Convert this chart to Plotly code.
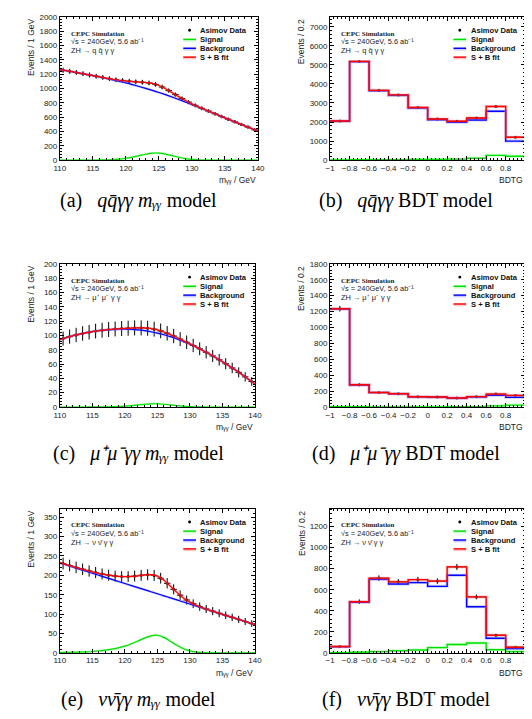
import plotly.graph_objects as go

# ---------------- data ----------------
mass_x = [110, 111, 112, 113, 114, 115, 116, 117, 118, 119, 120, 121, 122, 123, 124, 125,
          126, 127, 128, 129, 130, 131, 132, 133, 134, 135, 136, 137, 138, 139, 140]
mass_centers = [110.5, 111.5, 112.5, 113.5, 114.5, 115.5, 116.5, 117.5, 118.5, 119.5,
                120.5, 121.5, 122.5, 123.5, 124.5, 125.5, 126.5, 127.5, 128.5, 129.5,
                130.5, 131.5, 132.5, 133.5, 134.5, 135.5, 136.5, 137.5, 138.5, 139.5]
mass_ticks = [110, 115, 120, 125, 130, 135, 140]

# (a) q qbar gamma gamma, m_gg
qq_bkg = [1264, 1248, 1232, 1215, 1198, 1180, 1161, 1142, 1122, 1101, 1080, 1055, 1029, 1002, 974, 945,
          914, 881, 847, 812, 776, 740, 703, 666, 628, 590, 553, 516, 479, 442, 405]
qq_sig = [0, 0, 0, 0, 0.5, 1, 2, 4, 8, 15, 26, 42, 62, 82, 97, 98,
          84, 62, 40, 22, 10, 4, 1.5, 0.5, 0, 0, 0, 0, 0, 0, 0]
qq_sb = [1264, 1248, 1232, 1215, 1198.5, 1181, 1163, 1146, 1130, 1116, 1106, 1097, 1091, 1084, 1071, 1043,
         998, 943, 887, 834, 786, 744, 704.5, 666.5, 628, 590, 553, 516, 479, 442, 405]
qq_data = [1256, 1240, 1224, 1207, 1190, 1172, 1155, 1138, 1123, 1111, 1102, 1094, 1088, 1078, 1058,
           1021, 971, 915, 861, 810, 765, 724, 686, 647, 609, 572, 535, 498, 461, 424]
qq_err = [35.4, 35.2, 35.0, 34.7, 34.5, 34.2, 34.0, 33.7, 33.5, 33.3, 33.2, 33.1, 33.0, 32.8, 32.5,
          32.0, 31.2, 30.2, 29.3, 28.5, 27.7, 26.9, 26.2, 25.4, 24.7, 23.9, 23.1, 22.3, 21.5, 20.6]

# (c) mu+ mu- gamma gamma, m_gg
mm_bkg = [94, 97, 99.5, 101.7, 103.6, 105.2, 106.5, 107.5, 108.2, 108.6, 108.7, 108.4, 107.7, 106.6, 105.1, 103.2,
          100.9, 98.2, 95.1, 91.6, 87.7, 83.4, 78.8, 73.9, 68.7, 63.2, 57.5, 51.5, 45.3, 38.9, 32.3]
mm_sig = [0, 0, 0, 0, 0.02, 0.05, 0.1, 0.2, 0.4, 0.7, 1.2, 1.9, 2.85, 3.8, 4.45, 4.5,
          3.85, 2.85, 1.85, 1.0, 0.45, 0.2, 0.07, 0.02, 0, 0, 0, 0, 0, 0, 0]
mm_sb = [94, 97, 99.5, 101.7, 103.6, 105.3, 106.6, 107.7, 108.6, 109.3, 109.9, 110.3, 110.6, 110.4, 109.6, 107.7,
         104.8, 101.1, 97.0, 92.6, 88.2, 83.6, 78.9, 73.9, 68.7, 63.2, 57.5, 51.5, 45.3, 38.9, 32.3]
mm_data = [95.5, 98.3, 100.6, 102.7, 104.5, 106.0, 107.2, 108.2, 109.0, 109.6, 110.1, 110.5, 110.5, 110.0, 108.7,
           106.3, 103.0, 99.1, 94.8, 90.4, 85.9, 81.3, 76.4, 71.3, 66.0, 60.4, 54.5, 48.4, 42.1, 35.6]
mm_err = [9.8, 9.9, 10.0, 10.1, 10.2, 10.3, 10.4, 10.4, 10.4, 10.5, 10.5, 10.5, 10.5, 10.5, 10.4,
          10.3, 10.1, 10.0, 9.7, 9.5, 9.3, 9.0, 8.7, 8.4, 8.1, 7.8, 7.4, 7.0, 6.5, 6.0]

# (e) nu nubar gamma gamma, m_gg
vv_bkg = [232, 226.7, 221.4, 216.1, 210.8, 205.5, 200.2, 194.9, 189.6, 184.3, 179, 173.7, 168.4, 163.1, 157.8, 152.5,
          147.2, 141.9, 136.6, 131.3, 126, 120.7, 115.4, 110.1, 104.8, 99.5, 94.2, 88.9, 83.6, 78.3, 73]
vv_sig = [1, 1.2, 1.5, 2, 2.7, 3.6, 5, 7, 9.5, 13, 17.5, 23.5, 30.5, 38, 44, 45.5,
          40, 30, 19.5, 10.5, 5, 2, 0.8, 0.3, 0.1, 0, 0, 0, 0, 0, 0]
vv_sb = [233, 227.9, 222.9, 218.1, 213.5, 209.1, 205.2, 201.9, 199.1, 197.3, 196.5, 197.2, 198.9, 201.1, 201.8, 198,
         187.2, 171.9, 156.1, 141.8, 131, 122.7, 116.2, 110.4, 104.9, 99.5, 94.2, 88.9, 83.6, 78.3, 73]
vv_data = [230.5, 225.4, 220.5, 215.8, 211.3, 207.2, 203.6, 200.5, 198.2, 196.9, 196.9, 198.1, 200.0, 201.5, 199.9,
           192.6, 179.6, 164.0, 149.0, 136.4, 126.9, 119.5, 113.3, 107.7, 102.2, 96.9, 91.6, 86.3, 81.0, 75.7]
vv_err = [15.2, 15.0, 14.8, 14.7, 14.5, 14.4, 14.3, 14.2, 14.1, 14.0, 14.0, 14.1, 14.1, 14.2, 14.1,
          13.9, 13.4, 12.8, 12.2, 11.7, 11.3, 10.9, 10.6, 10.4, 10.1, 9.8, 9.6, 9.3, 9.0, 8.7]

# BDT histograms
bdt_edges = [-1.0, -0.8, -0.6, -0.4, -0.2, 0.0, 0.2, 0.4, 0.6, 0.8, 1.0]
bdt_ticktext = ["−1", "−0.8", "−0.6", "−0.4", "−0.2", "0", "0.2", "0.4", "0.6", "0.8", "1"]
bdt_centers = [-0.9, -0.7, -0.5, -0.3, -0.1, 0.1, 0.3, 0.5, 0.7, 0.9]

qq_bdt_bkg = [2040, 5165, 3640, 3400, 2730, 2120, 1990, 2110, 2570, 1000]
qq_bdt_sig = [15, 20, 25, 25, 35, 40, 50, 100, 250, 205]
qq_bdt_sb = [2055, 5185, 3665, 3425, 2765, 2160, 2040, 2210, 2820, 1205]
qq_bdt_err = [45.3, 72.0, 60.5, 58.5, 52.6, 46.5, 45.2, 47.0, 53.1, 34.7]

mm_bdt_bkg = [1232, 276, 181, 165, 127, 123, 110, 126, 148, 122]
mm_bdt_sig = [3, 3, 2, 2, 2, 2, 3, 4, 14, 24]
mm_bdt_sb = [1235, 279, 183, 167, 129, 125, 113, 130, 162, 146]
mm_bdt_err = [35.1, 16.7, 13.5, 12.9, 11.4, 11.2, 10.6, 11.4, 12.7, 12.1]

vv_bdt_bkg = [58, 480, 698, 655, 668, 632, 738, 438, 139, 42]
vv_bdt_sig = [2, 6, 12, 20, 28, 50, 79, 94, 29, 12]
vv_bdt_sb = [60, 486, 710, 675, 696, 682, 817, 532, 168, 54]
vv_bdt_err = [7.7, 22.0, 26.6, 26.0, 26.4, 26.1, 28.6, 23.1, 13.0, 7.3]

legend_labels = ["Asimov Data", "Signal", "Background", "S + B fit"]
captions = [
    "(a)\u2002 <i>qq\u0304γγ mᵧᵧ</i> model",
    "(b)\u2002 <i>qq\u0304γγ</i> BDT model",
    "(c)\u2002 <i>μ⁺μ⁻γγ mᵧᵧ</i> model",
    "(d)\u2002 <i>μ⁺μ⁻γγ</i> BDT model",
    "(e)\u2002 <i>νν\u0304γγ mᵧᵧ</i> model",
    "(f)\u2002 <i>νν\u0304γγ</i> BDT model",
]
process_labels = ["ZH → q q\u0304 γ γ", "ZH → q q\u0304 γ γ",
                  "ZH → μ⁺ μ⁻ γ γ", "ZH → μ⁺ μ⁻ γ γ",
                  "ZH → ν ν\u0304 γ γ", "ZH → ν ν\u0304 γ γ"]
energy_label = "√s = 240GeV, 5.6 ab⁻¹"

# ---------------- layout helpers ----------------
W, H = 532, 719
SANS = "Liberation Sans, Arial, Helvetica, sans-serif"
SERIF = "Liberation Serif, Times New Roman, serif"
RED, BLUE, GREEN = "#ff0000", "#0000ff", "#00e000"
LRED, LBLUE, LGREEN = "rgba(255,120,120,0.4)", "rgba(120,120,255,0.4)", "rgba(120,255,120,0.4)"

def fx(p):
    return p / W

def fy(p):
    return 1 - p / H

# (left, right, top, bottom) in pixels
panels = [(47, 250, 5, 150), (324, 524, 5, 150),
          (47, 247, 255, 400), (324, 524, 255, 400),
          (47, 247, 503, 649), (324, 524, 503, 649)]
yranges = [2000, 7520, 200, 1800, 372, 1370]
ydticks = [200, 1000, 20, 200, 50, 200]
yminor = [40, 200, 4, 40, 10, 40]
ytitles = ["Events / 1 GeV", "Events / 0.2"] * 3
xtitles = ["mᵧᵧ / GeV", "BDTG"] * 3

mass_sets = [(qq_bkg, qq_sig, qq_sb, qq_data, qq_err),
             (mm_bkg, mm_sig, mm_sb, mm_data, mm_err),
             (vv_bkg, vv_sig, vv_sb, vv_data, vv_err)]
bdt_sets = [(qq_bdt_bkg, qq_bdt_sig, qq_bdt_sb, qq_bdt_err),
            (mm_bdt_bkg, mm_bdt_sig, mm_bdt_sb, mm_bdt_err),
            (vv_bdt_bkg, vv_bdt_sig, vv_bdt_sb, vv_bdt_err)]

fig = go.Figure()
shapes = []
annotations = []

for i in range(6):
    n = i + 1
    xa = "x" if n == 1 else f"x{n}"
    ya = "y" if n == 1 else f"y{n}"
    is_mass = (i % 2 == 0)
    row = i // 2
    if is_mass:
        bkg, sig, sb, dat, err = mass_sets[row]
        fig.add_trace(go.Scatter(x=mass_centers, y=dat, mode="markers", xaxis=xa, yaxis=ya,
                                 marker=dict(size=3, color="black"),
                                 error_y=dict(type="data", array=err, thickness=1, width=0, color="black"),
                                 error_x=dict(type="constant", value=0.5, thickness=1, width=0, color="black"),
                                 showlegend=False, hoverinfo="skip"))
        for ys, c, lc in [(sig, GREEN, LGREEN), (bkg, BLUE, LBLUE), (sb, RED, LRED)]:
            fig.add_trace(go.Scatter(x=mass_x, y=ys, mode="lines", xaxis=xa, yaxis=ya,
                                     line=dict(color=lc, width=2.4, shape="spline"),
                                     showlegend=False, hoverinfo="skip"))
            fig.add_trace(go.Scatter(x=mass_x, y=ys, mode="lines", xaxis=xa, yaxis=ya,
                                     line=dict(color=c, width=1.2, shape="spline"),
                                     showlegend=False, hoverinfo="skip"))
    else:
        bkg, sig, sb, err = bdt_sets[row]
        fig.add_trace(go.Scatter(x=bdt_centers, y=sb, mode="markers", xaxis=xa, yaxis=ya,
                                 marker=dict(size=3, color="black"),
                                 error_y=dict(type="data", array=err, thickness=1, width=0, color="black"),
                                 error_x=dict(type="constant", value=0.1, thickness=1, width=0, color="black"),
                                 showlegend=False, hoverinfo="skip"))
        for ys, c, lc in [(sig, GREEN, LGREEN), (bkg, BLUE, LBLUE), (sb, RED, LRED)]:
            yy = list(ys) + [ys[-1]]
            fig.add_trace(go.Scatter(x=bdt_edges, y=yy, mode="lines", xaxis=xa, yaxis=ya,
                                     line=dict(color=lc, width=3, shape="hv"),
                                     showlegend=False, hoverinfo="skip"))
            fig.add_trace(go.Scatter(x=bdt_edges, y=yy, mode="lines", xaxis=xa, yaxis=ya,
                                     line=dict(color=c, width=1.4, shape="hv"),
                                     showlegend=False, hoverinfo="skip"))

    l, r, t, b = panels[i]
    minor_base = dict(ticks="inside", ticklen=2, tickwidth=1, tickcolor="black", showgrid=False)
    common = dict(showline=True, linecolor="black", linewidth=1, mirror="allticks",
                  ticks="inside", ticklen=4, tickwidth=1, tickcolor="black",
                  showgrid=False, zeroline=False,
                  tickfont=dict(family=SANS, size=8, color="#222"))
    xkey = "xaxis" if n == 1 else f"xaxis{n}"
    ykey = "yaxis" if n == 1 else f"yaxis{n}"
    if is_mass:
        xcfg = dict(range=[110, 140], tickmode="array", tickvals=mass_ticks,
                    minor=dict(minor_base, tickmode="array", tickvals=mass_x), **common)
    else:
        xcfg = dict(range=[-1.0001, 1.0001], tickmode="array", tickvals=bdt_edges, ticktext=bdt_ticktext,
                    minor=dict(minor_base, tick0=-1, dtick=0.04), **common)
    ycfg = dict(range=[0, yranges[i]], tick0=0, dtick=ydticks[i],
                minor=dict(minor_base, tick0=0, dtick=yminor[i]), **common)
    fig.update_layout({xkey: dict(domain=[fx(l), fx(r)], anchor=ya, **xcfg),
                       ykey: dict(domain=[fy(b), fy(t)], anchor=xa, **ycfg)})

    # axis titles
    annotations.append(dict(text=ytitles[i], xref="paper", yref="paper",
                            x=fx(l - 29), y=fy(t), xanchor="center", yanchor="top",
                            textangle=-90, showarrow=False,
                            font=dict(family=SANS, size=8.5, color="#222")))
    annotations.append(dict(text=xtitles[i], xref="paper", yref="paper",
                            x=fx(r), y=fy(b + 20), xanchor="right", yanchor="middle",
                            showarrow=False, font=dict(family=SANS, size=8.5, color="#222")))

    # CEPC labels
    annotations.append(dict(text="<b>CEPC Simulation</b>", xref="paper", yref="paper",
                            x=fx(l + 9), y=fy(t + 17), xanchor="left", yanchor="middle",
                            showarrow=False, font=dict(family=SERIF, size=7, color="#222")))
    annotations.append(dict(text=energy_label, xref="paper", yref="paper",
                            x=fx(l + 9), y=fy(t + 25), xanchor="left", yanchor="middle",
                            showarrow=False, font=dict(family=SANS, size=7.4, color="#222")))
    annotations.append(dict(text=process_labels[i], xref="paper", yref="paper",
                            x=fx(l + 9), y=fy(t + 34), xanchor="left", yanchor="middle",
                            showarrow=False, font=dict(family=SANS, size=7.4, color="#222")))

    # legend
    leg_dy = [13.5, 23, 32, 41]
    cols = [None, (GREEN, LGREEN), (BLUE, LBLUE), (RED, LRED)]
    for k in range(4):
        yy = t + leg_dy[k]
        if k == 0:
            shapes.append(dict(type="circle", xref="paper", yref="paper",
                               x0=fx(l + 131.5), x1=fx(l + 134.5), y0=fy(yy + 1.5), y1=fy(yy - 1.5),
                               fillcolor="black", line=dict(width=0)))
        else:
            c, lc = cols[k]
            shapes.append(dict(type="line", xref="paper", yref="paper",
                               x0=fx(l + 126.5), x1=fx(l + 139.5), y0=fy(yy + 1.2), y1=fy(yy + 1.2),
                               line=dict(color=lc, width=1.6)))
            shapes.append(dict(type="line", xref="paper", yref="paper",
                               x0=fx(l + 126.5), x1=fx(l + 139.5), y0=fy(yy - 0.3), y1=fy(yy - 0.3),
                               line=dict(color=c, width=1.5)))
        annotations.append(dict(text="<b>" + legend_labels[k] + "</b>", xref="paper", yref="paper",
                                x=fx(l + 142), y=fy(yy), xanchor="left", yanchor="middle",
                                showarrow=False, font=dict(family=SANS, size=7.6, color="#111")))

# captions
cap_pos = [(128, 191), (402, 191), (128, 447), (402, 447), (128, 696), (402, 696)]
for i in range(6):
    cx, cy = cap_pos[i]
    annotations.append(dict(text=captions[i], xref="paper", yref="paper",
                            x=fx(cx), y=fy(cy), xanchor="center", yanchor="middle",
                            showarrow=False, font=dict(family=SERIF, size=20, color="black")))

fig.update_layout(width=W, height=H, margin=dict(l=0, r=0, t=0, b=0),
                  paper_bgcolor="white", plot_bgcolor="white",
                  showlegend=False, shapes=shapes, annotations=annotations)

fig.write_html("out.html")
